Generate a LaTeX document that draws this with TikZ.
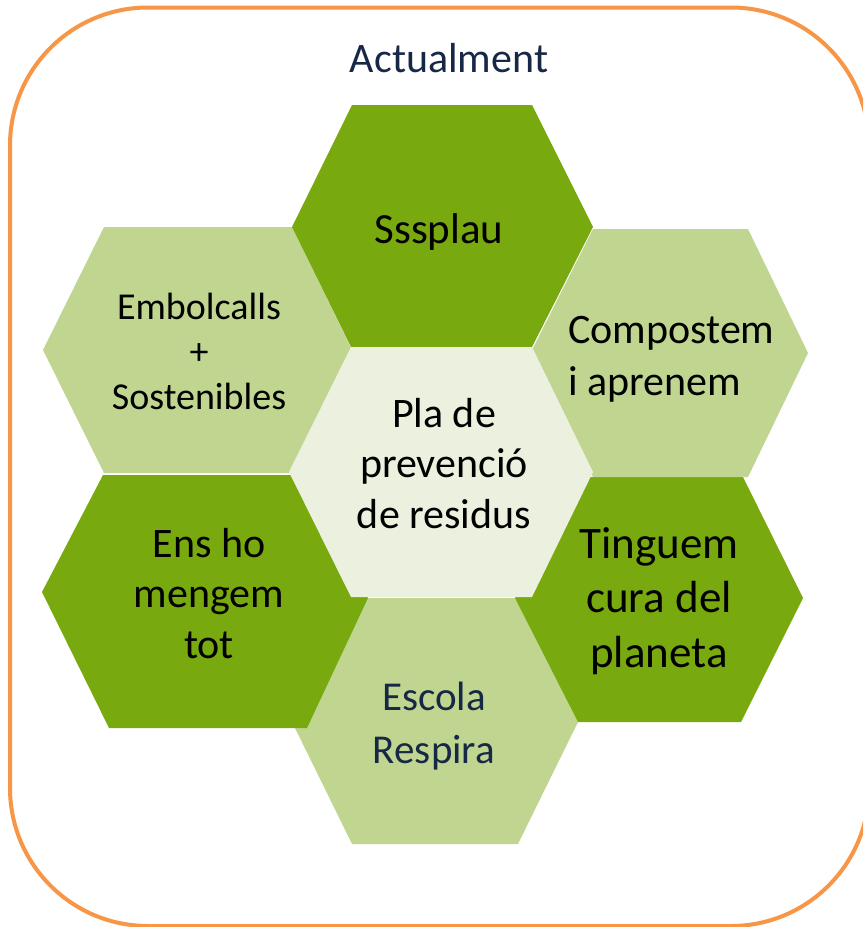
\documentclass[tikz,border=0pt]{standalone}
\usepackage{fontspec}
\setmainfont{Carlito}
\definecolor{hexdk}{RGB}{120,169,14}
\definecolor{hexlt}{RGB}{192,214,144}
\definecolor{hexctr}{RGB}{235,241,222}
\definecolor{frameor}{RGB}{247,150,70}
\definecolor{navy}{RGB}{23,40,70}
\begin{document}
\begin{tikzpicture}[x=1pt,y=-1pt,
  dkhex/.style={fill=hexdk},
  lthex/.style={fill=hexlt},
  ctrhex/.style={fill=hexctr},
  lbl/.style={align=center,inner sep=0pt,text=black},
  frame/.style={draw=frameor,line width=4pt,rounded corners=138pt}]
\useasboundingbox (0,0) rectangle (863,927);
\clip (0,0) rectangle (863,927);
\fill[white] (0,0) rectangle (863,927);
\draw[frame] (10,7.5) rectangle (869,926);
% hexagons (drawn back to front)
\fill[lthex]  (357,598) -- (517,598) -- (578,722) -- (518,844) -- (352,844) -- (295,728) -- cycle;
\fill[dkhex]  (590,477) -- (743,477) -- (803,598) -- (741,722) -- (578,722) -- (515,598) -- cycle;
\fill[dkhex]  (103,475) -- (308,475) -- (368,598) -- (307,728) -- (109,728) -- (42,592) -- cycle;
\fill[lthex]  (104,227) -- (292,227) -- (352,350) -- (290,473) -- (104,473) -- (43,350) -- cycle;
\fill[lthex]  (593,229) -- (748,229) -- (808,353) -- (748,477) -- (593,477) -- (532,350) -- cycle;
\fill[dkhex]  (352,105) -- (532,105) -- (593,227) -- (532,347) -- (351,347) -- (292,227) -- cycle;
\fill[ctrhex] (351,347) -- (532,347) -- (593,472) -- (532,597) -- (351,597) -- (289,472) -- cycle;
% texts
\node[lbl,text=navy,anchor=base,font=\fontsize{42}{51}\selectfont] (title) at (449,72) {Actualment};
\node[lbl,anchor=base,font=\fontsize{43}{52}\selectfont] (sss) at (439,243) {Sssplau};
\node[lbl,font=\fontsize{42}{50.5}\selectfont] (pla) at (444,467.4) {\strut Pla de\\\strut prevenció\\\strut de residus};
\node[lbl,font=\fontsize{38}{45}\selectfont] (emb) at (199,355) {\strut Embolcalls\\\strut +\\\strut Sostenibles};
\node[lbl,align=left,anchor=west,font=\fontsize{42}{52}\selectfont] (comp) at (568,358.6) {\strut Compostem\\\strut i aprenem};
\node[lbl,font=\fontsize{42}{50.5}\selectfont] (ens) at (209,597.4) {\strut Ens ho\\\strut mengem\\\strut tot};
\node[lbl,font=\fontsize{45}{54.5}\selectfont] (ting) at (659,601.6) {\strut Tinguem\\\strut cura del\\\strut planeta};
\node[lbl,text=navy,font=\fontsize{41}{53}\selectfont] (esc) at (434,725.9) {\strut Escola\\\strut Respira};
\end{tikzpicture}
\end{document}
